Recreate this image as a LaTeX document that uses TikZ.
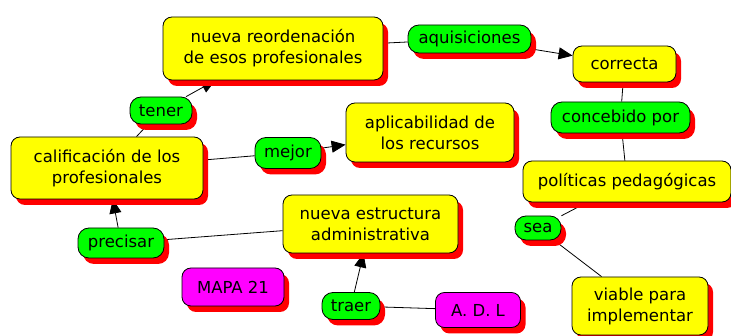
\documentclass[tikz,border=0pt]{standalone}
\usepackage{fontspec}
\setmainfont{DejaVu Sans}
\usetikzlibrary{shadows,arrows.meta,backgrounds}
\definecolor{cyel}{RGB}{255,255,0}
\definecolor{cgrn}{RGB}{0,255,0}
\definecolor{cmag}{RGB}{255,0,255}
\definecolor{cred}{RGB}{255,0,0}
\begin{document}
\begin{tikzpicture}[x=1pt,y=-1pt,
  base/.style={draw=black, line width=0.8pt, align=center, inner sep=0pt,
    font=\fontsize{16.5}{21}\selectfont,
    drop shadow={shadow xshift=5pt, shadow yshift=-6pt, fill=cred, opacity=1, draw=none}},
  concept/.style={base, fill=cyel, rounded corners=9pt},
  linkbox/.style={base, fill=cgrn, rounded corners=11pt},
  tagbox/.style={base, fill=cmag, rounded corners=9pt},
  sz/.style 2 args={minimum width=#1pt, minimum height=#2pt},
  conn/.style={draw=black, line width=0.8pt},
  arr/.style={conn, -{Triangle[length=14pt,width=12pt]}}
]
\useasboundingbox (0,0) rectangle (731,336);
\clip (0,0) rectangle (731,336);

\node[concept, sz={220}{63}] (reord) at (273,48.5) {nueva reordenación\\de esos profesionales};
\node[linkbox, sz={123}{28}] (aquis) at (469.5,39) {aquisiciones};
\node[concept, sz={103}{36}] (correcta) at (624.5,64) {correcta};
\node[linkbox, sz={139}{31}] (concebido) at (620.5,117.5) {concebido por};
\node[concept, sz={208}{41}] (politicas) at (627,181.5) {políticas pedagógicas};
\node[concept, sz={168}{59}] (aplic) at (430,132.5) {aplicabilidad de\\los recursos};
\node[concept, sz={192}{62}] (calif) at (107,168) {calificación de los\\profesionales};
\node[linkbox, sz={66}{31}] (mejor) at (288,153) {mejor};
\node[linkbox, sz={62}{27}] (tener) at (161,110.5) {tener};
\node[linkbox, sz={86}{30}] (precisar) at (121,243) {precisar};
\node[concept, sz={175}{58}] (estructura) at (370.5,224) {nueva estructura\\administrativa};
\node[linkbox, sz={46}{24}] (sea) at (538,228) {sea};
\node[tagbox, sz={102}{38}] (mapa) at (233,287) {MAPA 21};
\node[linkbox, sz={58}{27}] (traer) at (351,306) {traer};
\node[tagbox, sz={85}{35}] (adl) at (478,310) {A. D. L};
\node[concept, sz={136}{58}] (viable) at (640,306) {viable para\\implementar};

\begin{scope}[on background layer]
\draw[conn] (calif) -- (tener);
\draw[arr] (tener) -- (reord);
\draw[conn] (reord) -- (aquis);
\draw[arr] (aquis) -- (correcta);
\draw[conn] (correcta) -- (concebido);
\draw[conn] (concebido) -- (politicas);
\draw[conn] (politicas) -- (sea);
\draw[conn] (sea) -- (viable);
\draw[conn] (calif) -- (mejor);
\draw[arr] (mejor) -- (aplic);
\draw[conn] (estructura) -- (precisar);
\draw[arr] (precisar) -- (calif);
\draw[conn] (adl) -- (traer);
\draw[arr] (traer) -- (estructura);
\end{scope}
\end{tikzpicture}
\end{document}
